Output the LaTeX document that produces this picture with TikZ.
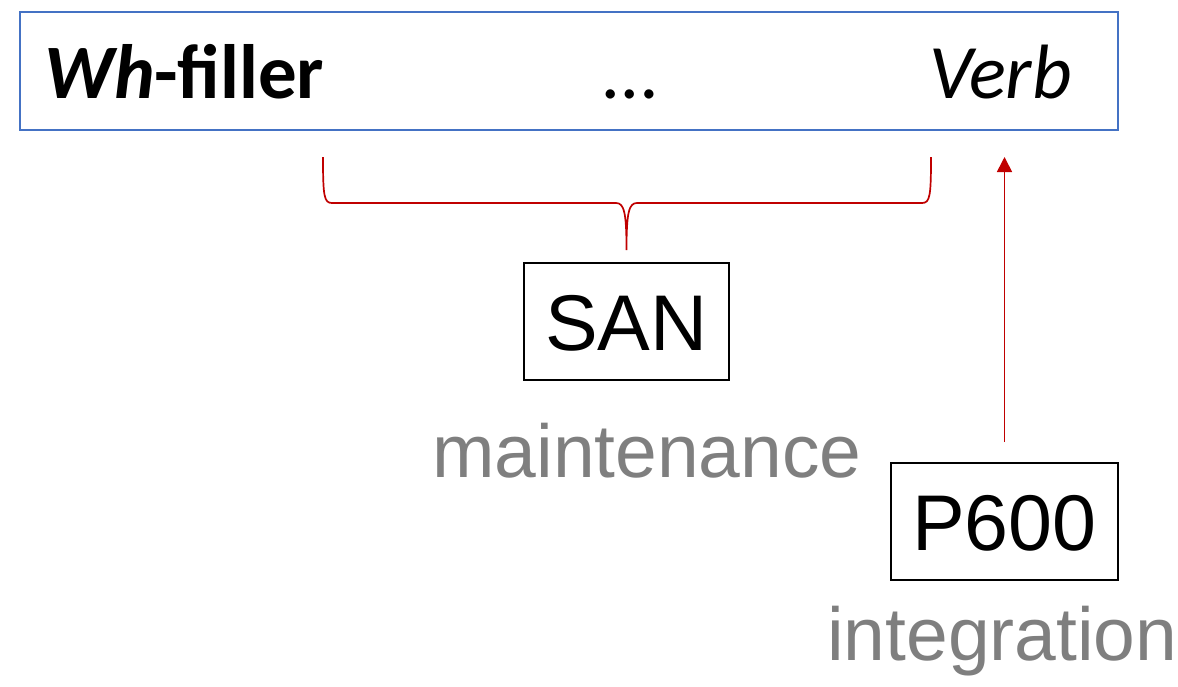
\documentclass[tikz,border=0pt]{standalone}
\usepackage{fontspec}
\setmainfont{Liberation Sans}
\newfontfamily\calibrifont{Carlito}
\usetikzlibrary{arrows.meta}
\definecolor{frameblue}{HTML}{4472C4}
\definecolor{bracered}{HTML}{C00000}
\definecolor{labelgray}{HTML}{7F7F7F}
\tikzset{
  sentence/.style={draw=frameblue, line width=2pt, minimum width=1098pt, minimum height=118pt, inner sep=0pt},
  word/.style={inner sep=0pt, font=\calibrifont\fontsize{77}{84}\selectfont},
  erpbox/.style={draw=black, line width=2pt, inner sep=0pt, text height=57pt, text depth=0pt,
    font=\fontsize{79}{86}\selectfont},
  process/.style={inner sep=0pt, text=labelgray, font=\fontsize{75}{82}\selectfont},
  bracepath/.style={draw=bracered, line width=1.7pt},
  link/.style={draw=bracered, line width=1.7pt, -{Triangle[width=15pt,length=15pt]}},
}
\begin{document}
\begin{tikzpicture}[x=1pt, y=-1pt]
  \useasboundingbox (0,0) rectangle (1178,686);

  % sentence frame and its words
  \node[sentence] (sent) at (569,71) {};
  \node[word, anchor=base west] (filler) at (44,98) {\textbf{\textit{Wh}-filler}};
  \node[word, anchor=base] (gap) at (630,98) {…};
  \node[word, anchor=base west] (verb) at (929,98) {\textit{Verb}};

  % ERP components
  \node[erpbox, minimum width=205pt, minimum height=117pt] (san) at (626.5,321.5) {SAN};
  \node[process, anchor=base west] (maint) at (432,477) {maintenance};
  \node[erpbox, minimum width=227pt, minimum height=117pt] (p600) at (1004.5,521.5) {P600};
  \node[process, anchor=base west] (integ) at (827,660) {integration};

  % brace spanning the filler--verb dependency
  \coordinate (bl) at (323,157);
  \coordinate (br) at (931,157);
  \coordinate (btip) at (san.north |- 0,250);
  \path[bracepath] (bl) .. controls (323,196) and (324,203) .. (332,203)
    -- (616,203) .. controls (624,203) and (626.5,212) .. (btip)
    .. controls (626.5,212) and (629,203) .. (637,203)
    -- (922,203) .. controls (930,203) and (931,196) .. (br);

  % P600 points up to the verb
  \coordinate (verbfoot) at (p600.north |- 0,157);
  \path[link] ([yshift=20pt]p600.north) -- (verbfoot);
\end{tikzpicture}
\end{document}
